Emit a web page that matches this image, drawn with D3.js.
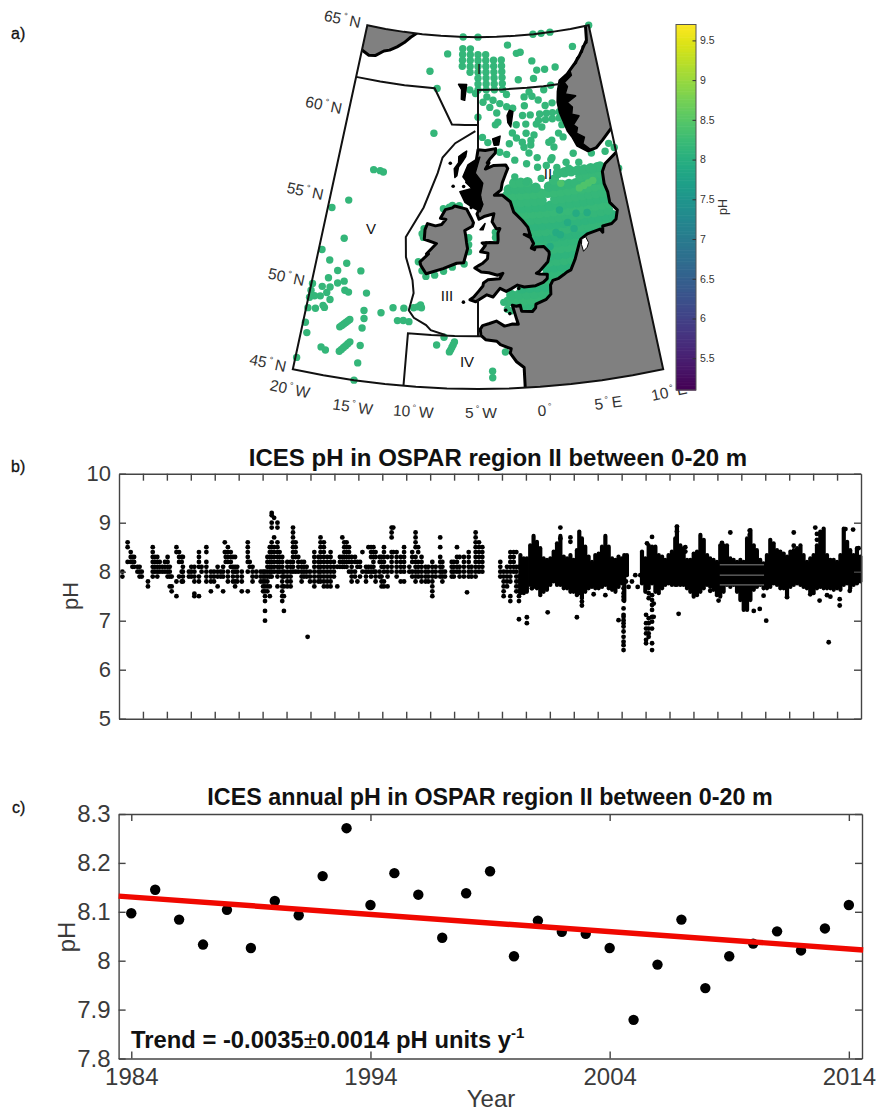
<!DOCTYPE html>
<html>
<head>
<meta charset="utf-8">
<script src="https://cdn.jsdelivr.net/npm/d3@7/dist/d3.min.js"></script>
<style>
body { margin: 0; background: #fff; }
svg { display: block; font-family: 'Liberation Sans', Arial, sans-serif; }
.axis path, .axis line { stroke: #444; stroke-width: 1.4px; }
.axis text { fill: #3a3a3a; font-family: 'Liberation Sans', Arial, sans-serif; }
.title { font-weight: bold; fill: #111; text-anchor: middle; }
.axlabel { fill: #3a3a3a; text-anchor: middle; }
.panel { font-size: 16px; fill: #111; stroke: #111; stroke-width: 0.3px; }
.geo { font-size: 15.5px; fill: #333; text-anchor: middle; }
.region { font-size: 15px; fill: #111; text-anchor: middle; }
</style>
</head>
<body>
<svg id="fig" width="876" height="1112"></svg>
<script>
'use strict'

// ---- panel a: land, lon/lat ----
const greatBritain = [[-5,58.6],[-4.2,58.55],[-3.05,58.65],[-3.1,58.4],[-3.65,58.1],[-4,57.85],[-3.8,57.85],[-4.2,57.5],[-3.3,57.7],[-2,57.7],[-1.8,57.5],[-2.1,57.15],[-2.45,56.7],[-2.6,56.3],[-3.3,56],[-2.5,56],[-2,55.75],[-1.7,55.6],[-1.4,55],[-0.6,54.5],[-0.1,54.1],[0.1,53.6],[-0.5,53.7],[0.1,53.5],[0.35,53.15],[0.1,52.9],[0.4,52.8],[0.5,52.95],[1.3,52.93],[1.75,52.6],[1.75,52.45],[1.55,52.05],[1.3,51.9],[0.7,51.55],[0.4,51.45],[0.7,51.4],[1.4,51.35],[1.35,51.1],[0.95,50.9],[0.25,50.75],[-0.8,50.72],[-1.4,50.85],[-2,50.65],[-2.45,50.52],[-3,50.7],[-3.65,50.22],[-4.2,50.35],[-5.2,49.96],[-5.72,50.07],[-5.4,50.22],[-4.95,50.55],[-4.55,50.85],[-4.5,51.02],[-4.1,51.2],[-3,51.25],[-2.7,51.55],[-3.2,51.45],[-4,51.6],[-4.7,51.65],[-5.3,51.88],[-4.9,52.03],[-4.6,52.13],[-4.1,52.4],[-4.05,52.72],[-4.75,52.8],[-4.3,53.15],[-4.6,53.3],[-3.85,53.32],[-3.1,53.3],[-3.05,53.45],[-3.05,53.85],[-2.85,54.1],[-3.2,54.1],[-3.6,54.5],[-3.4,54.95],[-4.4,54.8],[-4.9,54.65],[-5.1,54.95],[-4.65,55.45],[-4.8,55.95],[-5.7,55.3],[-5.6,55.9],[-5.5,56.4],[-6.2,56.75],[-5.8,57],[-5.8,57.75],[-5.2,57.95]]
const ireland = [[-7.37,55.38],[-6.15,55.22],[-5.7,54.75],[-5.45,54.45],[-5.55,54.25],[-6.3,54],[-6.2,53.7],[-6.1,53.3],[-6,52.97],[-6.35,52.17],[-7,52.13],[-8.25,51.8],[-9.8,51.45],[-10.35,51.9],[-10.45,52.1],[-9.7,52.58],[-9.9,52.57],[-9,53.2],[-10.2,53.4],[-10.2,53.95],[-10,54.3],[-9.2,54.2],[-8.6,54.3],[-8.2,54.6],[-8.75,54.65],[-8.3,55.15],[-7.6,55.27]]
const continent = [[-1.2,44],[-1.2,45.5],[-1.2,46.15],[-1.8,46.5],[-2.3,47],[-2.2,47.25],[-3.1,47.5],[-3.4,47.7],[-4.35,47.8],[-4.75,48.05],[-4.8,48.4],[-4.6,48.6],[-4,48.72],[-3.4,48.85],[-2.7,48.55],[-2,48.65],[-1.5,48.63],[-1.6,48.85],[-1.95,49.72],[-1.6,49.65],[-1.25,49.7],[-1.15,49.35],[-0.2,49.3],[0.1,49.5],[0.15,49.7],[1.1,49.93],[1.55,50.2],[1.6,50.72],[1.85,50.97],[2.4,51.05],[2.9,51.23],[3.2,51.35],[3.6,51.45],[4.1,52],[4.75,52.95],[4.9,53.1],[5.6,53.35],[6.9,53.5],[7.1,53.3],[7.2,53.65],[8.1,53.7],[8.6,53.9],[8.9,54.4],[8.3,54.9],[8.3,55.5],[8.1,56],[8.15,56.7],[8.6,57.12],[9.95,57.6],[10.6,57.75],[12,58],[12,44]]
const norway = [[9.3,64.2],[8,63.4],[7.2,63],[6.1,62.5],[5.1,62.2],[4.7,61.6],[4.5,61],[4.6,60.4],[5.2,59.3],[5.6,58.95],[6,58.4],[7.05,58],[8,58.1],[8.8,58.45],[10,59],[12,59],[12,66],[9.9,66]]
const norwayBand = [[9.3,64.2],[8,63.4],[7.2,63],[6.1,62.5],[5.1,62.2],[4.7,61.6],[4.5,61],[4.6,60.4],[5.2,59.3],[5.6,58.95],[6,58.4],[7.05,58],[7.35,58.05],[6.6,58.45],[6.9,58.8],[6.1,59.1],[6.3,59.4],[5.9,59.6],[6.7,60.05],[5.9,60.2],[6.1,60.6],[5.6,60.9],[6.7,61.2],[5.5,61.4],[5.9,61.8],[5.6,62.05],[6.6,62.4],[6.5,62.7],[7.5,63.05],[7.6,63.3],[8.5,63.6],[8.6,63.9],[9.3,64.05]]
const iceland = [[-22,63.5],[-19.9,63.54],[-19,63.35],[-18.2,63.4],[-17.2,63.75],[-16.5,63.85],[-15.6,64.1],[-14.75,64.4],[-14,64.75],[-13.3,65],[-13.3,67],[-22,67]]
const hebrides = [[-6.25,58.52],[-6.35,58.2],[-6.7,57.9],[-7.1,57.6],[-7.25,57.1],[-7.45,57],[-7.55,57.5],[-7.1,57.85],[-7.1,58.2],[-6.6,58.4]]
const argyllMass = [[-6.09,57.73],[-6.6,57.05],[-5.63,56.4],[-6.88,56.2],[-6.33,55.6],[-5.6,55.34],[-4.8,55.08],[-4.5,55.5],[-4.8,55.9],[-4.5,56.7],[-5.3,57.27],[-4.8,58.18]]
const shetland = [[-1.3,60.8],[-0.9,60.7],[-1.1,60.2],[-1.25,59.85],[-1.55,60.1],[-1.6,60.5]]
const faroes = [[-7.4,62.3],[-6.4,62.3],[-6.6,61.4],[-7,61.45],[-7,62]]
const orkney = [[-3.35,59.2],[-2.5,59.35],[-2.7,58.85],[-3.2,58.85]]
const isleOfMan = [[-4.8,54.05],[-4.3,54.4],[-4.5,54.05]]
const smallIslands = [[-6.3,49.93],[-2.2,49.25],[-2.55,49.45],[-1.3,50.65],[-4.2,53.3],[-8,57.8],[-7.6,56.5],[-6.5,56.5]]
const ijsselmeer = [[5,52.4],[5.4,52.6],[5.6,52.85],[5.4,53.2],[5,53.1],[4.9,52.8]]

// OSPAR boundaries
const boundaryNorth = [[-20,62],[-17,62],[-14,62],[-10.3,62],[-8,60],[-6.5,60],[-5,60]]
const boundaryBox = [[-5,58.6],[-5,60],[-5,62],[-2,62],[1,62],[3,62],[5,62]]
const boundaryWest = [[-5.3,59.66],[-7.54,58.95],[-8.87,58.1],[-9.3,57.2],[-10.5,55.2],[-12,53.44],[-11.8,52.3],[-11,51.03],[-10.8,50.3],[-11.1,49.3],[-10.6,48.9],[-9.5,48.54],[-9.07,48.27],[-7.8,48.03]]
const boundaryIV = [[-11,45],[-11,46.5],[-11,48],[-9,48],[-7,48],[-5,48],[-4.7,48]]
const boundaryChannel = [[-5,48],[-5,49],[-5,50.1]]

// frame
const frameLons = [-20,-17.5,-15,-12.5,-10,-7.5,-5,-2.5,0,2.5,5,7.5,10]
const frameLatTop = 65
const frameLatBottom = 45

// stations in rows: pH, lat, lons
const stationRows = [
  [8.12,49.6,[-1,-0.3]],
  [8.18,49.95,[-2.3,-1.6,-0.9,-0.2,0.5,1.2]],
  [8.14,50.3,[-2,-1.3,-0.6,0.1,0.8,1.5]],
  [8.1,50.65,[-1,-0.3,0.4,1.1,1.8]],
  [8.16,51,[0.8,1.5,2.2,2.9]],
  [8.12,51.35,[1.4,2.1,2.8,3.5]],
  [8.08,51.7,[1.4,2.1,2.8,3.5,4]],
  [8.14,52.05,[1.7,2.4,3.1,3.8]],
  [8.1,52.4,[1.9,2.6,3.3,4,4.5]],
  [8.16,52.75,[1.5,2.2,2.9,3.6,4.3,4.7]],
  [8.12,53.1,[0.6,1.3,2,2.7,3.4,4.1,4.8,5.2]],
  [8.08,53.45,[0.4,1.1,1.8,2.5,3.2,3.9,4.6,5.3,6,6.7]],
  [8.15,53.8,[0.2,0.9,1.6,2.3,3,3.7,4.4,5.1,5.8,6.5,7.2,7.9]],
  [8.1,54.15,[0,0.7,1.4,2.1,2.8,3.5,4.2,4.9,5.6,6.3,7,7.7,8.4]],
  [8.14,54.5,[-0.4,0.3,1,1.7,2.4,3.1,3.8,4.5,5.2,5.9,6.6,7.3,8]],
  [8.18,54.85,[-0.9,-0.2,0.5,1.2,1.9,2.6,3.3,4,4.7,5.4,6.1,6.8,7.5,8.2]],
  [8.12,55.2,[-1.2,-0.5,0.2,0.9,1.6,2.3,3,3.7,4.4,5.1,5.8,6.5,7.2,7.9]],
  [8.16,55.55,[-1.3,-0.6,0.1,0.8,1.5,2.9,3.6,4.3,5,5.7,6.4,7.1,7.8]],
  [8.2,55.95,[-2,-1.3,-0.6,0.1,0.8,1.5,2.2,2.9,3.6,4.3,5,5.7,6.4,7.1,7.8]],
  [8.14,56.3,[-1.8,-1.1,-0.4,0.3,1,2.4,3.1,3.8,4.5,5.2,5.9,6.6,7.3,7.8]],
  [8.18,56.65,[-1.2,-0.5,0.2,3,5.8,6.5,7.2,7.9]],
  [8.15,57,[3.5,4.2,4.9,5.6,6.3,7,7.7,8]]
]
// loose stations, lon/lat
const stationsLoose = [
  // norwegian sea grid
  [-7,64.33],[-7,64],[-7,63.67],[-7,63.33],[-6,64.33],[-6,64],[-6,63.67],[-6,63.33],[-6,63],
  [-5,64],[-5,63.67],[-5,63.33],[-5,63],[-5,62.67],[-5,62.33],[-5,62],
  [-4,64],[-4,63.67],[-4,63.33],[-4,63],[-4,62.67],[-4,62.33],[-4,62],
  [-3,63.67],[-3,63.33],[-3,63],[-3,62.67],[-3,62.33],[-3,62],
  [-2,63.67],[-2,63.33],[-2,63],[-2,62.67],[-2,62.33],[-2,62],
  [-7,65],[-5,65],[2.4,65],[3.5,65],[4.7,65],[10,65],[-1.1,64.5],[-8.95,64],[-11.05,62.94],
  [0,64],[0.5,64.05],[1.9,63.5],[7.35,64],[2.4,62.95],[3.4,62.95],[4.75,63],[0,62.5],[1.9,62.5],
  [-10,62],[-10,59.45],[-16.1,57],[-15.4,57],[-15.05,56.95],[-18.1,55.05],[-19.6,54.45],
  // faroe shetland sections
  [-6,62],[-5.3,61.8],[-3.93,61.6],[-3.2,61.4],[-2.4,61.2],[-1.6,61],[-0.9,60.9],[-4.4,61.3],[-3.6,61],[-2.8,60.67],[-2.7,60.15],[-3,60],[-5,60.45],
  [-1.55,61.7],[1.2,61.75],[3,61.8],[3.9,62],[0.55,61.5],[1.5,61.5],[2.2,61.25],[2.95,60.9],[3.8,61],[0.5,61],
  [0.2,60.45],[1.1,60.45],[2.2,60.45],[3,60.45],[3.7,60.45],[4.5,60.45],[5,60.45],
  [2,60.1],[2.8,60.1],[3.6,60.1],[4.4,60.1],[5,60.1],
  [-0.6,59.95],[0.5,59.95],[1.7,59.9],[2.3,59.7],[4.6,59.7],
  // northern north sea
  [-1.1,59.5],[-0.67,59.2],[0.45,59.43],[1.33,59.3],[0.93,59],[-0.05,58.94],[0.1,58.65],[0.87,58.74],[0.6,58.3],
  [3.25,58.9],[4.1,59.25],[4.55,59],[2.9,58.8],[3.4,58.5],[-1.5,58.9],[1.45,58],[3.05,57.9],[2.9,57.8],[-1,57.95],[-2.6,58.44],[-1.85,58.3],
  [0.25,57.7],[1.4,57.45],[-4.5,59.3],[-3.9,59],[9.4,58.2],[9.9,57.9],[9.9,56.7],
  [5.4,58],[5.85,57.45],[7.35,57.84],[8.85,57.8],[4.5,57.55],[4.7,57.2],[3.45,57.33],[2.35,57.5],[1.67,56.8],[0.08,56.66],[-1.1,57],[7.2,56.9],
  // ireland and irish sea rim
  [-10.3,53.5],[-10.3,54],[-10.45,53.7],[-10.6,52.1],[-10.2,51.6],[-9.8,51.3],[-9,51.4],[-8.2,51.65],[-7.4,51.9],[-6.3,52.1],[-5.9,52.8],[-5.9,53.2],[-5.9,53.6],[-8.5,55.2],[-7.6,55.4],[-6.9,55.4],[-7.9,55.3],[-3.3,53.6],[-3.3,53.9],[-2.4,49.5],[-2.1,49.4],[-2.7,49.9],
  // atlantic
  [-19.7,52],[-18.8,51.5],[-17.2,51.5],[-17.9,51],[-15.8,51.2],[-18.6,50.5],[-17.7,50.3],[-17.15,50.47],[-19.9,50],[-19,49.95],[-18.3,50],[-16.95,49.97],[-16.6,49.9],[-15,50],[-18.5,49.66],[-19,49.4],[-19.9,49.6],[-19.5,49.34],[-19.9,49.2],[-18.1,49.3],[-19.85,48.6],[-19.2,48.65],[-18.6,48.9],[-18.45,48.8],[-19.8,47.76],[-19.5,47.2],[-19.9,45.7],[-18.1,46.56],[-17.7,46.43],[-17.85,52.87],
  [-16.85,47.87],[-16.7,47.97],[-16.55,48.07],[-16.4,48.17],[-16.25,48.27],[-16.1,48.37],
  [-16.55,46.5],[-16.4,46.62],[-16.25,46.75],[-16.1,46.87],[-15.95,47],[-15.8,47.12],
  [-14.9,47],[-14.9,46],[-15,45],[-14.95,48],[-14.9,48.55],[-15,49],[-13.5,49],[-12.5,49.36],[-11.55,49.4],[-10.7,49.47],[-10.35,49.54],[-10.1,49.66],[-10,49.5],[-12,48.66],[-11.5,48.7],[-11,48.66],
  [-7.9,47.9],[-8.5,47.44],[-7.4,47.08],[-7.3,47.2],[-7.2,47.35],[-7.1,47.5],[-7,47.65],[-2.7,47.08],[-3.8,46],[-3.8,45.63]
]
const stationsLow = [[3.85,54.15],[4.4,53.75],[2.6,53.66],[3,53.5],[5.9,54.55],[3.2,54.9],[1.9,52.9],[4.8,54.6]]
const stationsHigh = [[6.5,56.2],[7,56.3],[6,56.1],[5.5,56],[3.65,56.4]]
const looseStationPh = 8.15
const lowStationPh = 7.92
const highStationPh = 8.42

const latLabels = [65,60,55,50,45]
const lonLabels = [-20,-15,-10,-5,0,5,10]
const colorTicks = [5.5,6,6.5,7,7.5,8,8.5,9,9.5]
const colorDomain = [5.1,9.7]

// ---- panel b: sampled columns, [time, pH, pH, ...] ----
const sampleColumns = [
  [1984.14,8,7.9],[1984.36,8.6,8.5,8.2],[1984.49,8.4,8.3,8.2],[1984.56,8.3,8.2,8.1],[1984.63,8.3,8.2,8.1],[1984.77,8.1,8],[1984.86,8.1,8,7.9],[1984.95,8,7.9],
  [1985.21,7.8,7.7],[1985.41,8.5,8.4,8.3,8.2,8.1,8,7.9],[1985.5,8.3,8.2,8.1,8],[1985.6,8.3,8.2,8.1,8,7.9],[1985.7,8.2,8.1,8],[1985.81,8.1,8],[1985.92,8.2,8.1,8],
  [1986.03,8.3,8.2,8.1,8,7.9],[1986.12,8.1,8,7.9,7.7],[1986.2,7.9,7.7,7.6],[1986.4,8.5,8.4,7.8,7.5],[1986.51,8.4,8.3,8.2,7.9],[1986.62,8.3,8.2,8,7.8],[1986.67,8.3,8.1,8,7.9,7.8],[1986.92,8,7.9],
  [1987.02,8.1,8,7.9],[1987.15,8.1,8,7.9,7.8,7.55,7.5],[1987.34,8.4,8.3,8.2,8.1,7.9,7.8,7.5],[1987.45,8.1,8],[1987.65,8.5,8.4,8.2,8.1,8,7.9,7.8],[1987.84,8,7.9,7.8,7.6],[1987.97,8,7.9,7.8],
  [1988.12,8.1,8,7.9,7.7],[1988.25,8,7.9],[1988.35,8.1,8,7.9,7.6],[1988.42,8.6,8.4],[1988.46,8.4,8.3,8.2],[1988.55,8.5,8.4,8.3,8.2,8,7.9,7.8],[1988.67,8.4,8.3,8.2,8.1],[1988.76,8.3,8.1,8,7.9,7.8],[1988.85,8.3,8.1,8,7.8,7.7],[1988.94,8.1,8,7.9,7.8],
  [1989.13,8,7.9,7.8,7.6],[1989.38,8.6,8.5,8.4,8.3,8.2,8,7.6],[1989.46,8.2,8.1],[1989.58,8.1,8,7.9,7.8],[1989.74,8,7.9],[1989.92,8,7.9,7.8],
  [1990.02,8,7.9,7.8,7.7,7.6],[1990.1,8,7.9,7.8,7.7,7.6,7.5,7.4,7.2,7],[1990.2,8.3,8.2,8.1,8,7.9,7.8,7.7,7.6],[1990.3,8.5,8.4,8.3,8.2,8.1,8,7.9,7.7,7.5],[1990.38,9.2,9.15,9,8.9,8.6,8.5,8.4,8.3,8.2,8.1,8,7.9],[1990.48,9.1,8.7,8.5,8.4,8.3,8.2,8.1,8],[1990.62,9,8.9,8.6,8.5,8.4,8.3,8.2,8.1,8,7.9,7.7],[1990.71,8.4,8.3,8.2,8.1,8],[1990.82,8.3,8.2,8.1,8,7.9,7.8,7.7,7.6,7.5,7.4],[1990.89,8,7.9,7.7,7.5,7.2],
  [1991.03,8.2,8.1,8,7.9,7.8,7.7],[1991.17,8.2,8.1,8,7.9,7.8,7.7],[1991.27,8.9,8.8,8.7,8.6,8.5,8.4,8.3,8.2,8.1,8],[1991.38,8.6,8.5,8.4,8.3,8],[1991.49,8.3,8.2,8.1,8],[1991.63,8.2,8.1,8,7.9,7.8],[1991.73,8.2,8.1,8,7.9],[1991.84,8.1,8,7.9],[1991.88,6.67],[1991.98,8,7.9,7.8],
  [1992.16,8.4,8.3,8.2,8.1,8,7.9,7.8,7.7],[1992.33,8.3,8.2,8.1,8,7.9,7.8],[1992.42,8.7,8.6,8.5,8.4,8.3,8.2,8.1,8,7.9,7.8],[1992.56,8.6,8.5,8.4,8.3,8.2,8.1,8,7.9,7.8,7.7],[1992.7,8.3,8.2,8.1,8,7.9,7.8,7.7],[1992.84,8.4,8.3,8.2,8.1,8,7.9,7.8,7.7],[1992.98,8.2,8.1,8,7.9],
  [1993.12,8.1,7.7],[1993.23,8.3,8.2,8.1],[1993.33,8.7,8.3,8.2,8.1],[1993.41,8.6,8.5,8.4,8.3,8.2,8.1],[1993.51,8.6,8.5,8.4,8.3,8.2,8.1],[1993.61,8.5,8.4,8.3,8.2,8],[1993.72,8.3,8.2,8.1,8,7.9,7.8],[1993.86,8.3,8.2,8,7.9],[1993.96,8.2,8.1,7.8],
  [1994.07,8.2,8.1,7.9],[1994.17,8.4,8],[1994.32,8.1,8,7.9,7.8],[1994.42,8.5,8.1,8],[1994.53,8.5,8.4,8.3,8.1,8,7.9],[1994.63,8.5,8.4,8.3,8.2,8.1,8],[1994.72,8.4,8.3,8,7.9,7.8],[1994.89,8.3,8.2,8,7.9],[1994.97,8.3,8.2,8.1,7.9,7.8,7.7],
  [1995.07,8.5,8.4,8.3,8.2,8.1,8,7.8,7.7],[1995.22,8.3,8.1,8,7.9,7.7],[1995.39,8.9,8.8,8.7,8.4,8.3,8.2,8.1,8],[1995.46,8.9,8.4],[1995.6,8.4,8.3,8.2,8.1,8,7.9],[1995.77,8.3,8.2,8.1,8,7.8],[1995.91,8.5,8.4,8.3,8.2,8.1,8,7.8],
  [1996.13,8.1,8],[1996.25,8.4,8.3,8.2,8,7.9],[1996.39,8.8,8.7,8.6,8.5,8.3,8.2,8.1,8,7.9,7.8],[1996.5,8.5,8.4,8.2,8.1,8,7.9],[1996.64,8.3,8.2,8.1,8,7.9,7.8],[1996.81,8.1,8,7.9,7.8],[1996.92,8.1,8,7.9,7.8],
  [1997.09,8.2,8.1,8,7.9,7.8,7.7,7.6,7.5],[1997.23,8.1,8,7.9],[1997.42,8.7,8.5,8.3,8.2,8.1,8,7.9],[1997.51,8.2,8.1,8,7.9,7.8],[1997.62,8,7.9],[1997.9,8.2,8.1,8,7.9],[1997.99,8.2,8.1,8,7.9],
  [1998.12,8.5,8.3,8.2,8.1,8],[1998.23,8.3,8.1,8,7.9],[1998.41,8.3,8.2,8.1,8,7.9],[1998.54,7.58],[1998.61,8.4,8.3,8.2,8.1,8,7.9],[1998.73,8.1,8,7.9],[1998.9,8.8,8.7,8.6,8.5,8.4,8.3,8.2,8.1,8,7.9],
  [1999.04,8.6,8.5,8.4,8.3,8.2,8.1,8],[1999.18,8.5,8.4,8.3,8.2,8.1,8],[1999.93,8.2,8.1,8,7.9],
  [2000.07,8,7.9,7.8,7.7,7.6,7.5],[2000.21,8.1,8,7.9,7.8,7.7],[2000.35,8.4,8.3,8.2,8.1,8,7.9,7.8,7.5,7.4],[2000.49,8.4,8.3,8.2,8.1,8],[2000.6,8.4,8.1,8,7.9,7.8,7.7,7.6],[2000.71,8.1,7.9,7.8,7.7,7.6,7.5,7.4,7.03],
  // single samples and the two low spikes of 2005/2006
  [2001.04,7.07,6.95],[2001.25,7.66],[2001.91,7.17],[2002.44,8.9,8.68],[2002.86,8.7,8.61],[2003.13,7.07],[2003.34,7.39,7.31],[2003.83,7.54],[2004.32,7.52],
  [2004.87,7.01],[2005.08,7.66,7.56,7.49,7.42,7.25,7.12,7.08,7.01,6.95,6.88,6.78,6.67,6.57,6.5,6.4],[2005.18,7.8],[2005.29,7.69],[2005.43,7.8],[2005.57,7.93],[2005.67,7.69],[2005.78,7.93],
  [2006.02,7.12,6.95,6.84,6.74,6.61,6.54],[2006.06,8.58],[2006.13,7.56,7.46,7.05,6.95,6.84,6.74,6.67],[2006.27,8.71,7.52,7.42,7.32,7.22,7.08,6.98,6.84,6.54,6.4],[2006.34,7.35,7.08],
  [2007.31,8.92,8.82],[2007.38,7.14],[2007.66,8.5,8.41],[2008.7,7.61],[2009.05,7.41],[2009.19,8.59],[2009.54,8.8],[2010.35,8.84,8.75],[2010.52,7.2],[2010.77,7.24],[2010.93,7.51],[2011.04,7],[2011.91,7.48],
  [2012.19,8.8,8.53],[2012.88,7.54],[2013.09,8.9],[2013.16,8.77,8.65],[2013.27,7.41],[2013.58,7.52],[2013.65,6.56],[2013.72,7.49],[2014.11,7.44,7.31],[2014.35,8.87],[2014.53,7.61],[2014.67,8.86],[2014.9,8.48]
]
// where samples overlap to a solid band: time, lowest pH, highest pH
const bandTime = [2000.77,2000.91,2001.04,2001.18,2001.32,2001.46,2001.6,2001.74,2001.88,2002.02,2002.16,2002.3,2002.44,2002.58,2002.72,2002.86,2002.99,2003.13,2003.23,2003.34,2003.48,2003.62,2003.76,2003.9,2004.04,2004.18,2004.32,2004.46,2004.6,2004.74,2004.87,2005.01,2005.11,2005.22,
  2005.85,2005.99,2006.13,2006.27,2006.41,2006.55,2006.69,2006.82,2006.96,2007.1,2007.24,2007.31,2007.45,2007.59,2007.73,2007.87,2008.01,2008.15,2008.29,2008.43,2008.57,2008.7,2008.84,2008.98,2009.12,2009.26,2009.4,2009.54,2009.68,2009.82,2009.96,2010.1,2010.24,2010.38,2010.52,2010.65,2010.79,2010.93,2011.07,2011.21,2011.35,2011.49,2011.63,2011.77,2011.91,2012.05,2012.19,2012.33,2012.47,2012.6,2012.74,2012.88,2013.02,2013.16,2013.3,2013.44,2013.58,2013.72,2013.86,2014,2014.14,2014.28,2014.42,2014.55,2014.69,2014.83,2014.97]
const bandHigh = [8.34,8.27,8.27,8.54,8.73,8.61,8.48,8.27,8.24,8.27,8.41,8.58,8.73,8.31,8.27,8.34,8.24,8.44,8.82,8.68,8.51,8.31,8.2,8.34,8.37,8.51,8.73,8.51,8.27,8.24,8.31,8.27,8.34,8.34,
  8.41,8.27,8.54,8.51,8.51,8.34,8.31,8.24,8.34,8.41,8.68,8.92,8.54,8.48,8.24,8.24,8.37,8.41,8.75,8.65,8.34,8.27,8.24,8.2,8.54,8.54,8.54,8.27,8.24,8.2,8.24,8.2,8.68,8.85,8.54,8.44,8.24,8.17,8.34,8.65,8.58,8.44,8.41,8.37,8.31,8.41,8.44,8.48,8.54,8.34,8.2,8.27,8.34,8.54,8.82,8.88,8.34,8.24,8.24,8.2,8.34,8.88,8.61,8.44,8.34,8.48,8.31]
const bandLow = [7.56,7.56,7.59,7.73,7.69,7.66,7.52,7.59,7.63,7.73,7.8,7.73,7.73,7.66,7.66,7.59,7.59,7.52,7.56,7.46,7.59,7.66,7.69,7.66,7.66,7.69,7.73,7.66,7.63,7.59,7.69,7.76,7.4,7.93,
  7.76,7.59,7.66,7.76,7.59,7.56,7.66,7.73,7.76,7.73,7.73,7.73,7.73,7.73,7.66,7.59,7.49,7.52,7.59,7.66,7.73,7.69,7.63,7.52,7.49,7.59,7.73,7.69,7.73,7.59,7.42,7.22,7.22,7.42,7.63,7.69,7.73,7.66,7.66,7.69,7.76,7.73,7.66,7.66,7.49,7.69,7.73,7.76,7.73,7.69,7.66,7.59,7.56,7.66,7.69,7.66,7.66,7.66,7.63,7.66,7.63,7.73,7.76,7.66,7.73,7.76,7.8]
// thin pale rows inside the band around 2009-2011
const slitPh = [8.14,7.93,7.73]
const slitYears = [2009.1,2010.95]

const sampleTicks = [1985,1986,1987,1988,1989,1990,1991,1992,1993,1994,1995,1996,1997,1998,1999,2000,2001,2002,2003,2004,2005,2006,2007,2008,2009,2010,2011,2012,2013,2014]
const sampleYTicks = [5,6,7,8,9,10]

// ---- panel c: annual means ----
const annualYears = [1984,1985,1986,1987,1988,1989,1990,1991,1992,1993,1994,1995,1996,1997,1998,1999,2000,2001,2002,2003,2004,2005,2006,2007,2008,2009,2010,2011,2012,2013,2014]
const annualPh = [8.097,8.145,8.084,8.033,8.104,8.026,8.122,8.093,8.173,8.271,8.114,8.179,8.135,8.047,8.138,8.183,8.009,8.082,8.059,8.055,8.026,7.879,7.992,8.084,7.944,8.009,8.035,8.06,8.021,8.066,8.114]
const trendYears = [1983.47,2014.6]
const trendPh = [8.132,8.022]
const annualYTicks = [7.8,7.9,8,8.1,8.2,8.3]
const annualXTicks = [1984,1994,2004,2014]

const svg = d3.select('#fig')

// ---- panel a ----
const proj = d3.geoConicEquidistant().parallels([45,65]).rotate([5,0]).scale(1008).translate([0,0])
const origin = proj([-5,45])
proj.translate([478 - origin[0], 389 - origin[1]])

const geoLine = d3.line().x((d) => proj(d)[0]).y((d) => proj(d)[1])
const framePts = frameLons.map((d) => [d, frameLatTop]).concat(frameLons.slice().reverse().map((d) => [d, frameLatBottom]))
const framePath = geoLine(framePts) + 'Z'

svg.append('defs').append('clipPath').attr('id', 'mapClip').append('path').attr('d', framePath)

const colorScale = d3.scaleSequential(d3.interpolateViridis).domain(colorDomain)

let denseStations = []
stationRows.forEach((row) => {
  row[2].forEach((lon) => denseStations.push({ lon: lon, lat: row[1], ph: row[0] }))
})
let stations = []
stationsLoose.forEach((d) => stations.push({ lon: d[0], lat: d[1], ph: looseStationPh }))
stationsLow.forEach((d) => stations.push({ lon: d[0], lat: d[1], ph: lowStationPh }))
stationsHigh.forEach((d) => stations.push({ lon: d[0], lat: d[1], ph: highStationPh }))

svg.append('g').selectAll('circle')
  .data(denseStations)
  .enter().append('circle')
  .attr('cx', (d) => proj([d.lon, d.lat])[0])
  .attr('cy', (d) => proj([d.lon, d.lat])[1])
  .attr('r', 5.2)
  .attr('fill', (d) => colorScale(d.ph))

svg.append('g').selectAll('circle')
  .data(stations)
  .enter().append('circle')
  .attr('cx', (d) => proj([d.lon, d.lat])[0])
  .attr('cy', (d) => proj([d.lon, d.lat])[1])
  .attr('r', 3.7)
  .attr('fill', (d) => colorScale(d.ph))

const land = svg.append('g').attr('clip-path', 'url(#mapClip)')
const greyLand = [continent, norway, iceland, greatBritain, ireland]
land.selectAll('path.land')
  .data(greyLand)
  .enter().append('path')
  .attr('class', 'land')
  .attr('d', (d) => geoLine(d) + 'Z')
  .attr('fill', '#808080')
  .attr('stroke', '#000')
  .attr('stroke-width', 3)
  .attr('stroke-linejoin', 'round')

const blackLand = [norwayBand, hebrides, argyllMass, shetland, faroes, orkney, isleOfMan]
land.selectAll('path.black')
  .data(blackLand)
  .enter().append('path')
  .attr('class', 'black')
  .attr('d', (d) => geoLine(d) + 'Z')
  .attr('fill', '#000')
  .attr('stroke', '#000')
  .attr('stroke-width', 1.5)
  .attr('stroke-linejoin', 'round')

land.append('path')
  .attr('d', geoLine(ijsselmeer) + 'Z')
  .attr('fill', '#fff')
  .attr('stroke', '#000')
  .attr('stroke-width', 1)

land.selectAll('circle')
  .data(smallIslands)
  .enter().append('circle')
  .attr('cx', (d) => proj(d)[0])
  .attr('cy', (d) => proj(d)[1])
  .attr('r', 1.8)
  .attr('fill', '#000')

svg.append('path')
  .attr('d', framePath)
  .attr('fill', 'none')
  .attr('stroke', '#111')
  .attr('stroke-width', 2)

svg.append('g').selectAll('path')
  .data([boundaryNorth, boundaryBox, boundaryWest, boundaryIV, boundaryChannel])
  .enter().append('path')
  .attr('d', (d) => geoLine(d))
  .attr('fill', 'none')
  .attr('stroke', '#111')
  .attr('stroke-width', 2)

function degreeText(sel, value, letter) {
  sel.append('tspan').text(value)
  sel.append('tspan').attr('dy', -6).attr('dx', 2).attr('font-size', 9).text('°')
  if (letter) sel.append('tspan').attr('dy', 6).attr('dx', 3).text(letter)
}

latLabels.forEach((lat) => {
  const p = proj([-20, lat])
  const t = svg.append('text').attr('class', 'geo')
    .attr('transform', `translate(${p[0] - 26},${p[1] - 1}) rotate(12)`)
  degreeText(t, lat, 'N')
})
const lonLabelDx = [-4,-2,-3,3,5,7,7]
const lonLabelDy = [25,32,30,29,29,28,28]
const lonLabelAngle = [12,8,4,0,-4,-8,-12]
lonLabels.forEach((lon, i) => {
  const p = proj([lon, frameLatBottom])
  const t = svg.append('text').attr('class', 'geo')
    .attr('transform', `translate(${p[0] + lonLabelDx[i]},${p[1] + lonLabelDy[i]}) rotate(${lonLabelAngle[i]})`)
  degreeText(t, Math.abs(lon), lon < 0 ? 'W' : lon > 0 ? 'E' : '')
})

const regionText = [['I',479,74],['II',548,179],['III',447,301],['IV',467,367],['V',371,234]]
svg.append('g').selectAll('text')
  .data(regionText)
  .enter().append('text')
  .attr('class', 'region')
  .attr('x', (d) => d[1])
  .attr('y', (d) => d[2])
  .text((d) => d[0])

// colour bar
const barY = d3.scaleLinear().domain(colorDomain).range([390, 24.5])
const barSteps = d3.range(colorDomain[0], colorDomain[1], 0.02)
svg.append('g').selectAll('rect')
  .data(barSteps)
  .enter().append('rect')
  .attr('x', 676)
  .attr('width', 20)
  .attr('y', (d) => barY(d + 0.02))
  .attr('height', (d) => barY(d) - barY(d + 0.02) + 0.6)
  .attr('fill', (d) => colorScale(d))
svg.append('rect')
  .attr('x', 676).attr('y', 24.5).attr('width', 20).attr('height', 365.5)
  .attr('fill', 'none').attr('stroke', '#555').attr('stroke-width', 1)
const barAxis = svg.append('g')
  .attr('transform', 'translate(696,0)')
  .call(d3.axisRight(barY).tickValues(colorTicks).tickSize(-3.5).tickPadding(4).tickFormat((d) => d))
barAxis.select('.domain').remove()
barAxis.selectAll('line').attr('stroke', '#333')
barAxis.selectAll('text').attr('font-size', 10.5).attr('fill', '#333').attr('font-family', "'Liberation Sans', Arial, sans-serif")
svg.append('text')
  .attr('transform', 'translate(727,207) rotate(-90)')
  .attr('text-anchor', 'middle')
  .attr('font-size', 12.5)
  .attr('fill', '#333')
  .text('pH')

// ---- shared axes box ----
function drawBox(x, y, xTicks, yTicks, xFormat, yFormat, labelSize) {
  const x0 = x.range()[0], x1 = x.range()[1], y0 = y.range()[0], y1 = y.range()[1]
  const inner = -7
  const parts = svg.append('g').attr('font-size', labelSize)
  parts.append('g').attr('class', 'axis').attr('transform', `translate(0,${y0})`)
    .call(d3.axisBottom(x).tickValues(xTicks).tickSizeInner(inner).tickSizeOuter(0).tickPadding(9).tickFormat(xFormat))
  parts.append('g').attr('class', 'axis').attr('transform', `translate(0,${y1})`)
    .call(d3.axisTop(x).tickValues(xTicks).tickSizeInner(inner).tickSizeOuter(0).tickFormat(''))
  parts.append('g').attr('class', 'axis').attr('transform', `translate(${x0},0)`)
    .call(d3.axisLeft(y).tickValues(yTicks).tickSizeInner(inner).tickSizeOuter(0).tickPadding(8).tickFormat(yFormat))
  parts.append('g').attr('class', 'axis').attr('transform', `translate(${x1},0)`)
    .call(d3.axisRight(y).tickValues(yTicks).tickSizeInner(inner).tickSizeOuter(0).tickFormat(''))
  parts.selectAll('.axis').attr('font-size', labelSize)
}

// ---- panel b ----
const xB = d3.scaleLinear().domain([1984, 2015]).range([119, 861])
const yB = d3.scaleLinear().domain([5, 10]).range([718.7, 473.7])

svg.append('g').selectAll('line')
  .data(bandTime)
  .enter().append('line')
  .attr('x1', (d) => xB(d))
  .attr('x2', (d) => xB(d))
  .attr('y1', (d, i) => yB(bandLow[i]))
  .attr('y2', (d, i) => yB(bandHigh[i]))
  .attr('stroke', '#000')
  .attr('stroke-width', 4.2)
  .attr('stroke-linecap', 'round')

svg.append('g').selectAll('line')
  .data(slitPh)
  .enter().append('line')
  .attr('x1', xB(slitYears[0]))
  .attr('x2', xB(slitYears[1]))
  .attr('y1', (d) => yB(d))
  .attr('y2', (d) => yB(d))
  .attr('stroke', '#aaa')
  .attr('stroke-width', 0.8)

let samples = []
sampleColumns.forEach((col) => {
  col.slice(1).forEach((ph) => samples.push({ t: col[0], ph: ph }))
})
svg.append('g').selectAll('circle')
  .data(samples)
  .enter().append('circle')
  .attr('cx', (d) => xB(d.t))
  .attr('cy', (d) => yB(d.ph))
  .attr('r', 2.4)
  .attr('fill', '#000')

drawBox(xB, yB, sampleTicks, sampleYTicks, '', (d) => d, 22)

svg.append('text').attr('class', 'title').attr('x', 498).attr('y', 466).attr('font-size', 24).text('ICES pH in OSPAR region II between 0-20 m')
svg.append('text').attr('class', 'axlabel').attr('font-size', 22).attr('transform', 'translate(78,596) rotate(-90)').text('pH')

// ---- panel c ----
const xC = d3.scaleLinear().domain([1983.47, 2014.55]).range([118.6, 862])
const yC = d3.scaleLinear().domain([7.8, 8.3]).range([1058.5, 814])

drawBox(xC, yC, annualXTicks, annualYTicks, (d) => d, (d) => d, 24)

svg.append('g').selectAll('circle')
  .data(annualYears)
  .enter().append('circle')
  .attr('cx', (d) => xC(d))
  .attr('cy', (d, i) => yC(annualPh[i]))
  .attr('r', 5.2)
  .attr('fill', '#000')

svg.append('line')
  .attr('x1', xC(trendYears[0])).attr('x2', xC(trendYears[1]))
  .attr('y1', yC(trendPh[0])).attr('y2', yC(trendPh[1]))
  .attr('stroke', '#f00800')
  .attr('stroke-width', 5.4)

svg.append('text').attr('class', 'title').attr('x', 490).attr('y', 805).attr('font-size', 23.3).text('ICES annual pH in OSPAR region II between 0-20 m')
svg.append('text').attr('class', 'axlabel').attr('font-size', 24).attr('transform', 'translate(75,937) rotate(-90)').text('pH')
svg.append('text').attr('class', 'axlabel').attr('font-size', 24).attr('x', 491).attr('y', 1107).text('Year')

const trend = svg.append('text').attr('x', 131).attr('y', 1048).attr('font-size', 23.8).attr('font-weight', 'bold').attr('fill', '#111')
trend.append('tspan').text('Trend = -0.0035')
trend.append('tspan').attr('font-weight', 'normal').text('±')
trend.append('tspan').text('0.0014 pH units y')
trend.append('tspan').attr('dy', -10).attr('font-size', 15).text('-1')

// panel letters
svg.append('text').attr('class', 'panel').attr('x', 11).attr('y', 39).text('a)')
svg.append('text').attr('class', 'panel').attr('x', 11).attr('y', 472).text('b)')
svg.append('text').attr('class', 'panel').attr('x', 12).attr('y', 813).text('c)')
</script>
</body>
</html>
